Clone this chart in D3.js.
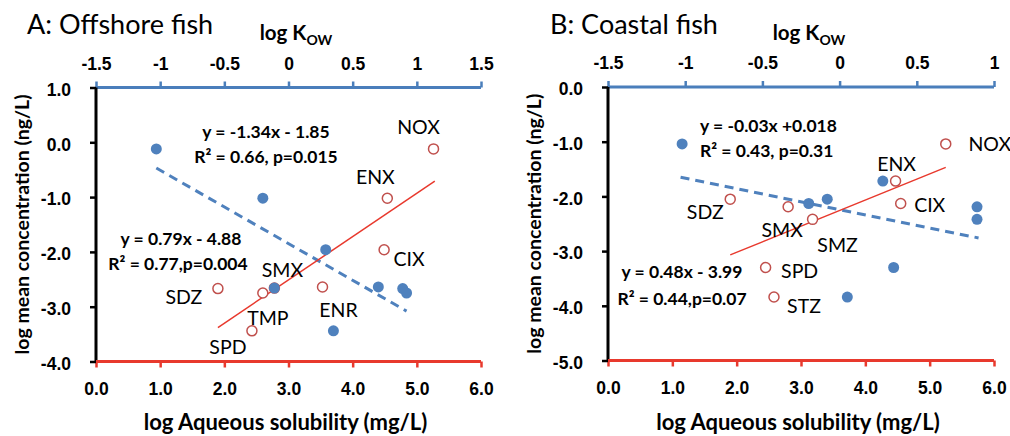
<!DOCTYPE html>
<html>
<head>
<meta charset="utf-8">
<script src="https://cdn.jsdelivr.net/npm/d3@7"></script>
<style>
  body { margin: 0; background: #fff; }
  svg { font-family: Lato, "Open Sans", sans-serif; }
</style>
</head>
<body>
<svg width="1010" height="436"></svg>
<script>
// compounds, one entry per antibiotic (same order in every array)
var namesA = ["NOX", "ENX", "CIX", "SDZ", "TMP", "SMX", "ENR", "SPD"];
var concA  = [-0.12, -1.02, -1.96, -2.67, -2.75, -2.66, -2.64, -3.44];   // log mean concentration
var solA   = [5.26, 4.54, 4.49, 1.90, 2.60, 2.78, 3.53, 2.43];           // log aqueous solubility
var kowA   = [-1.03, -0.20, 0.29, 0.89, 0.92, -0.11, 0.70, 0.35];        // log Kow

var namesB = ["NOX", "ENX", "CIX", "SDZ", "SMX", "SMZ", "SPD", "STZ"];
var concB  = [-1.04, -1.72, -2.13, -2.05, -2.19, -2.42, -3.30, -3.84];
var solB   = [5.25, 4.47, 4.55, 1.90, 2.80, 3.18, 2.45, 2.58];
var kowB   = [-1.02, 0.28, -0.20, -0.08, 0.89, 0.89, 0.35, 0.05];

// fitted lines (end points as drawn)
var trendKowA = [[-1.03, -0.47], [0.92, -3.08]];
var trendSolA = [[1.90, -3.38], [5.28, -0.71]];
var trendKowB = [[-1.03, -1.65], [0.90, -2.76]];
var trendSolB = [[1.90, -3.07], [5.25, -1.47]];

// tick labels
var solTicks  = [0, 1, 2, 3, 4, 5, 6];
var kowTicksA = [-1.5, -1, -0.5, 0, 0.5, 1, 1.5];
var kowTicksB = [-1.5, -1, -0.5, 0, 0.5, 1];
var concTicksA = [1, 0, -1, -2, -3, -4];
var concTicksB = [0, -1, -2, -3, -4, -5];

var svg = d3.select("svg");

var BLUE = "#4f81bd", BLUEAX = "#4a7ebb", RED = "#c0504d", REDLN = "#e8392d";

// plain hyphen for negatives, like the spreadsheet
var fmt1 = function(d) { return d.toFixed(1).replace("\u2212", "-"); };
var fmtK = function(d) { return String(d); };

function drawPanel(p) {
  var g = svg.append("g");

  var x = d3.scaleLinear().domain([0, 6]).range([p.left, p.right]);
  var xk = d3.scaleLinear().domain(p.kowDomain).range([p.left, p.right]);
  var y = d3.scaleLinear().domain(p.concDomain).range([p.bottom, p.top]);

  // titles
  g.append("text").attr("x", p.titleX).attr("y", 34)
    .style("font-size", "27px").text(p.title);

  var kt = g.append("text").attr("x", p.kowTitleX).attr("y", 40)
    .attr("text-anchor", "middle").style("font-size", "20.5px").style("font-weight", "bold");
  kt.append("tspan").text("log K");
  kt.append("tspan").attr("dy", 5).style("font-size", "14px").text("OW");

  g.append("text").attr("x", (p.left + p.right) / 2 - 3).attr("y", 430)
    .attr("text-anchor", "middle").style("font-size", "22px").style("font-weight", "bold")
    .text("log Aqueous solubility (mg/L)");

  g.append("text")
    .attr("transform", "translate(" + (p.left - 67) + "," + ((p.top + p.bottom) / 2) + ") rotate(-90)")
    .attr("text-anchor", "middle").style("font-size", "19.5px").style("font-weight", "bold")
    .text("log mean concentration (ng/L)");

  // top axis (log Kow)
  var ta = g.append("g").attr("transform", "translate(0," + p.top + ")")
    .call(d3.axisTop(xk).tickValues(p.kowTicks).tickSize(6).tickPadding(12).tickFormat(fmtK));
  ta.select(".domain").remove();
  ta.selectAll("line").attr("stroke", BLUEAX).attr("stroke-width", 2.5);
  ta.selectAll("text").style("font-size", "17.5px").style("font-weight", "bold")
    .attr("fill", "#000").attr("font-family", null);
  g.append("line").attr("x1", p.left).attr("x2", p.right).attr("y1", p.top).attr("y2", p.top)
    .attr("stroke", BLUEAX).attr("stroke-width", 3);

  // bottom axis (solubility)
  var ba = g.append("g").attr("transform", "translate(0," + p.bottom + ")")
    .call(d3.axisBottom(x).tickValues(solTicks).tickSize(6).tickPadding(15).tickFormat(fmt1));
  ba.select(".domain").remove();
  ba.selectAll("line").attr("stroke", REDLN).attr("stroke-width", 2.5);
  ba.selectAll("text").style("font-size", "17.5px").style("font-weight", "bold")
    .attr("fill", "#000").attr("font-family", null);

  // left axis (concentration)
  var la = g.append("g").attr("transform", "translate(" + p.left + ",0)")
    .call(d3.axisLeft(y).tickValues(p.concTicks).tickSize(6).tickPadding(19).tickFormat(fmt1));
  la.select(".domain").remove();
  la.selectAll("line").attr("stroke", "#000").attr("stroke-width", 2.5);
  la.selectAll("text").style("font-size", "17.5px").style("font-weight", "bold")
    .attr("fill", "#000").attr("font-family", null).attr("dy", "0.45em");
  g.append("line").attr("x1", p.left).attr("x2", p.left).attr("y1", p.top).attr("y2", p.bottom)
    .attr("stroke", "#000").attr("stroke-width", 3);
  g.append("line").attr("x1", p.left).attr("x2", p.right).attr("y1", p.bottom).attr("y2", p.bottom)
    .attr("stroke", REDLN).attr("stroke-width", 3);

  var line = function(sx) {
    return d3.line().x(function(d) { return sx(d[0]); }).y(function(d) { return y(d[1]); });
  };

  // trend lines
  g.append("path").attr("d", line(xk)(p.trendKow)).attr("fill", "none")
    .attr("stroke", BLUE).attr("stroke-width", 3).attr("stroke-dasharray", "9,6");
  g.append("path").attr("d", line(x)(p.trendSol)).attr("fill", "none")
    .attr("stroke", REDLN).attr("stroke-width", 1.5);

  var idx = d3.range(p.names.length);

  // solubility points (open red)
  g.selectAll("circle.sol").data(idx).enter().append("circle")
    .attr("cx", function(i) { return x(p.sol[i]); })
    .attr("cy", function(i) { return y(p.conc[i]); })
    .attr("r", 5).attr("fill", "#fff").attr("stroke", RED).attr("stroke-width", 1.5);

  // Kow points (filled blue)
  g.selectAll("circle.kow").data(idx).enter().append("circle")
    .attr("cx", function(i) { return xk(p.kow[i]); })
    .attr("cy", function(i) { return y(p.conc[i]); })
    .attr("r", 5.5).attr("fill", BLUE);

  // compound labels
  g.selectAll("text.lab").data(idx).enter().append("text")
    .attr("x", function(i) { return x(p.sol[i]) + p.labOff[i][0]; })
    .attr("y", function(i) { return y(p.conc[i]) + p.labOff[i][1] + 7; })
    .attr("text-anchor", "middle").style("font-size", "19.5px")
    .text(function(i) { return p.names[i]; });

  // equations
  p.eqs.forEach(function(e) {
    g.append("text").attr("x", e[0]).attr("y", e[1] + 6.5)
      .attr("text-anchor", e[3] || "middle")
      .style("font-size", "17.5px").style("font-weight", "bold").text(e[2]);
  });
}

drawPanel({
  title: "A: Offshore fish", titleX: 27, kowTitleX: 296,
  left: 96, right: 481, top: 87.5, bottom: 361.5,
  kowDomain: [-1.5, 1.5], concDomain: [-4, 1],
  kowTicks: kowTicksA, concTicks: concTicksA,
  names: namesA, conc: concA, sol: solA, kow: kowA,
  trendKow: trendKowA, trendSol: trendSolA,
  labOff: [[-15, -22], [-12, -21], [25, 9], [-34, 8], [5, 25], [8, -18], [16, 23], [-24, 16]],
  eqs: [[266, 131, "y = -1.34x - 1.85"], [266, 156, "R\u00b2 = 0.66, p=0.015"],
        [181, 238, "y = 0.79x - 4.88"], [178, 263, "R\u00b2 = 0.77,p=0.004"]]
});

drawPanel({
  title: "B: Coastal fish", titleX: 550, kowTitleX: 809,
  left: 608, right: 994, top: 87, bottom: 360.5,
  kowDomain: [-1.5, 1], concDomain: [-5, 0],
  kowTicks: kowTicksB, concTicks: concTicksB,
  names: namesB, conc: concB, sol: solB, kow: kowB,
  trendKow: trendKowB, trendSol: trendSolB,
  labOff: [[44, 0], [1, -17], [29, 1], [-25, 13], [-6, 23], [25, 26], [34, 3], [30, 9]],
  eqs: [[700, 125, "y = -0.03x +0.018", "start"], [700, 150, "R\u00b2 = 0.43, p=0.31", "start"],
        [682, 271, "y = 0.48x - 3.99"], [682, 298, "R\u00b2 = 0.44,p=0.07"]]
});
</script>
</body>
</html>
